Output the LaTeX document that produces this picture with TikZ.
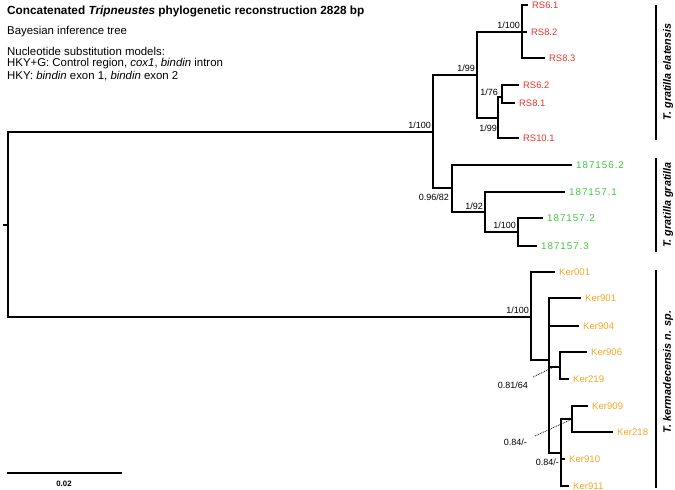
\documentclass[tikz,border=0pt]{standalone}
\usepackage{fontspec}
\setmainfont{Liberation Sans}
\definecolor{rsred}{HTML}{E8332A}
\definecolor{ggreen}{HTML}{3CC83C}
\definecolor{kerorange}{HTML}{F5A623}
\begin{document}
\begin{tikzpicture}[x=1pt,y=-1pt,
  br/.style={line width=1.7pt},
  bar/.style={line width=1.8pt},
  leaf/.style={anchor=west,inner sep=0pt,xshift=4pt},
  rsl/.style={leaf,text=rsred,font=\fontsize{9.4}{10}\selectfont},
  grl/.style={leaf,text=ggreen,font=\fontsize{9.8}{11}\selectfont\addfontfeature{LetterSpace=10}},
  kel/.style={leaf,text=kerorange,font=\fontsize{9.6}{11}\selectfont},
  sup/.style={inner sep=0pt,font=\fontsize{9}{10}\selectfont},
  clade/.style={rotate=90,inner sep=0pt,font=\fontsize{10.8}{12}\selectfont\bfseries\itshape},
  info/.style={anchor=west,inner sep=0pt,font=\fontsize{11.4}{12}\selectfont},
  dot/.style={densely dotted,line width=0.8pt}]
\useasboundingbox (0,0) rectangle (675,490);

% header
\node[info,font=\fontsize{11.8}{13}\selectfont\bfseries] (title) at (7,11) {Concatenated \textit{Tripneustes} phylogenetic reconstruction 2828 bp};
\node[info] (bay) at (7,32) {Bayesian inference tree};
\node[info] (nuc) at (7,51) {Nucleotide substitution models:};
\node[info] (hkyg) at (7,63.5) {HKY+G: Control region, \textit{cox1}, \textit{bindin} intron};
\node[info] (hky) at (7,76) {HKY: \textit{bindin} exon 1, \textit{bindin} exon 2};

% coordinates
\coordinate (rt) at (3,225);
\coordinate (root) at (8,225);
\coordinate (nA) at (433,132);
\coordinate (nB) at (477,75);
\coordinate (nC) at (522,32);
\coordinate (lRS61) at (528,5);
\coordinate (lRS82) at (527,32);
\coordinate (lRS83) at (545,58);
\coordinate (nD) at (498,118);
\coordinate (nE) at (502,97);
\coordinate (lRS62) at (519,85);
\coordinate (lRS81) at (515,103);
\coordinate (lRS101) at (519,138);
\coordinate (nF) at (452,188);
\coordinate (l1562) at (572,165);
\coordinate (nG) at (485,212);
\coordinate (l1571) at (565,192);
\coordinate (nH) at (518,232);
\coordinate (l1572) at (543,218);
\coordinate (l1573) at (537,246);
\coordinate (nI) at (531,317);
\coordinate (lK001) at (555,272);
\coordinate (nJ) at (549,360);
\coordinate (lK901) at (581,298);
\coordinate (lK904) at (579,326);
\coordinate (nK) at (560,367);
\coordinate (lK906) at (587,352);
\coordinate (lK219) at (569,379);
\coordinate (nM) at (561,453);
\coordinate (nL) at (572,419);
\coordinate (lK909) at (588,406);
\coordinate (lK218) at (613,432);
\coordinate (lK910) at (565,459);
\coordinate (lK911) at (569,486);

% branches
\draw[br] (rt) -- (root);
\foreach \p/\c in {root/nA,root/nI,nA/nB,nA/nF,nB/nC,nB/nD,nC/lRS61,nC/lRS82,nC/lRS83,
  nD/nE,nD/lRS101,nE/lRS62,nE/lRS81,nF/l1562,nF/nG,nG/l1571,nG/nH,nH/l1572,nH/l1573,
  nI/lK001,nI/nJ,nJ/lK901,nJ/lK904,nJ/nK,nJ/nM,nK/lK906,nK/lK219,nM/nL,nM/lK910,nM/lK911,
  nL/lK909,nL/lK218}
  \draw[br] (\p) |- (\c);

% leaf labels
\node[rsl] (tRS61) at (lRS61) {RS6.1};
\node[rsl] (tRS82) at (lRS82) {RS8.2};
\node[rsl] (tRS83) at (lRS83) {RS8.3};
\node[rsl] (tRS62) at (lRS62) {RS6.2};
\node[rsl] (tRS81) at (lRS81) {RS8.1};
\node[rsl] (tRS101) at (lRS101) {RS10.1};
\node[grl] (t1562) at (l1562) {187156.2};
\node[grl] (t1571) at (l1571) {187157.1};
\node[grl] (t1572) at (l1572) {187157.2};
\node[grl] (t1573) at (l1573) {187157.3};
\node[kel] (tK001) at (lK001) {Ker001};
\node[kel] (tK901) at (lK901) {Ker901};
\node[kel] (tK904) at (lK904) {Ker904};
\node[kel] (tK906) at (lK906) {Ker906};
\node[kel] (tK219) at (lK219) {Ker219};
\node[kel] (tK909) at (lK909) {Ker909};
\node[kel] (tK218) at (lK218) {Ker218};
\node[kel] (tK910) at (lK910) {Ker910};
\node[kel] (tK911) at (lK911) {Ker911};

% support values
\node[sup,anchor=south east] (sA) at (431,129) {1/100};
\node[sup,anchor=south east] (sB) at (475,72) {1/99};
\node[sup,anchor=south east] (sC) at (520,29) {1/100};
\node[sup,anchor=east] (sE) at (498,92) {1/76};
\node[sup,anchor=east] (sD) at (497,128) {1/99};
\node[sup,anchor=east] (sF) at (449,197) {0.96/82};
\node[sup,anchor=south east] (sG) at (483,210) {1/92};
\node[sup,anchor=south east] (sH) at (516,229) {1/100};
\node[sup,anchor=south east] (sI) at (529,314) {1/100};
\node[sup,anchor=east] (sK) at (528,385) {0.81/64};
\node[sup,anchor=east] (sL) at (527,442) {0.84/-};
\node[sup,anchor=east] (sM) at (559,462) {0.84/-};

% dotted pointers
\coordinate (dKs) at (533,377);
\coordinate (dKe) at (556,366);
\coordinate (dLs) at (535,436);
\coordinate (dLe) at (570,420);
\draw[dot] (dKs) -- (dKe);
\draw[dot] (dLs) -- (dLe);

% clade bars
\coordinate (b1t) at (656,5);  \coordinate (b1b) at (656,140);
\coordinate (b2t) at (656,158); \coordinate (b2b) at (656,252);
\coordinate (b3t) at (656,270); \coordinate (b3b) at (656,488);
\draw[bar] (b1t) -- (b1b);
\draw[bar] (b2t) -- (b2b);
\draw[bar] (b3t) -- (b3b);
\node[clade] (c1) at (668,72) {T. gratilla elatensis};
\node[clade] (c2) at (668,205) {T. gratilla gratilla};
\node[clade] (c3) at (668,372) {T. kermadecensis n. sp.};

% scale bar
\coordinate (sbl) at (7,473);
\coordinate (sbr) at (122,473);
\draw[br] (sbl) -- (sbr);
\node[inner sep=0pt,font=\fontsize{7.8}{9}\selectfont\bfseries] (sbt) at (64,484) {0.02};
\end{tikzpicture}
\end{document}
